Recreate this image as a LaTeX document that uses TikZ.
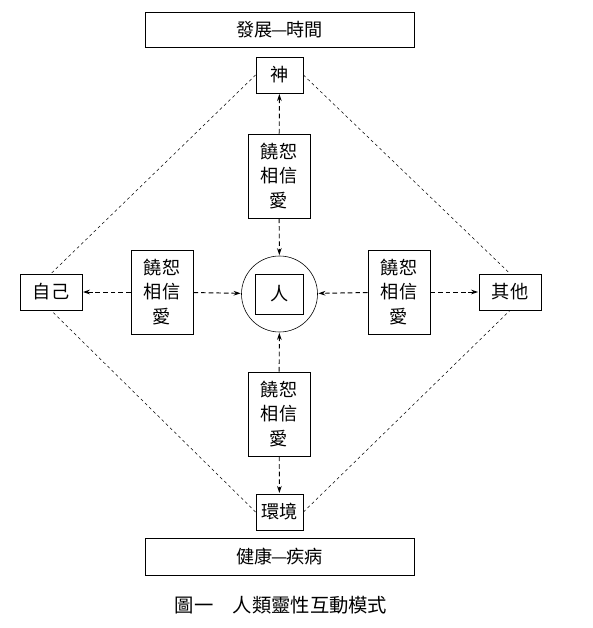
\documentclass[tikz,border=0pt]{standalone}
\usepackage{fontspec}
\setmainfont{Noto Sans CJK TC}
\usetikzlibrary{arrows.meta}

\begin{document}
\begin{tikzpicture}[x=0.03cm, y=-0.03cm, >={Stealth[length=6pt, width=4pt]},
    box/.style={draw, line width=0.7pt, inner sep=0pt, font=\fontsize{15.5}{19}\selectfont},
    lovebox/.style={box, minimum width=1.86cm, minimum height=2.52cm, align=center, font=\fontsize{15.5}{21}\selectfont},
    link/.style={->, line width=0.8pt, dash pattern=on 4pt off 2.5pt, shorten >=0.5pt},
    edge/.style={line width=0.45pt, dash pattern=on 2.5pt off 2.5pt}]
        \useasboundingbox (0,0) rectangle (592,628);

        \node[box, minimum width=8.07cm, minimum height=1.05cm] (fazhan) at (279.5,29.5) {發展\kern-1pt—\kern-1pt 時間};
        \node[box, minimum width=8.07cm, minimum height=1.11cm] (jiankang) at (279.5,556.5) {健康\kern-1pt—\kern-1pt 疾病};

        \node[box, minimum width=1.41cm, minimum height=1.08cm] (shen) at (279.5,75) {神};
        \node[box, minimum width=1.41cm, minimum height=1.08cm] (huanjing) at (279.5,512) {環境};
        \node[box, minimum width=1.86cm, minimum height=1.08cm] (ziji) at (51,292) {自己};
        \node[box, minimum width=1.86cm, minimum height=1.08cm] (qita) at (510,292) {其他};

        \node[circle, draw, line width=0.5pt, minimum size=2.28cm] (renc) at (279.5,294) {};
        \node[box, minimum width=1.44cm, minimum height=1.2cm] (ren) at (279.5,294) {人};

        \node[lovebox] (lup) at (279,176) {饒恕\\相信\\愛};
        \node[lovebox] (ldown) at (279,414) {饒恕\\相信\\愛};
        \node[lovebox] (lleft) at (162,292) {饒恕\\相信\\愛};
        \node[lovebox] (lright) at (399,292) {饒恕\\相信\\愛};

        \draw[link] (lup) -- (shen);
        \draw[link] (lup) -- (renc);
        \draw[link] (ldown) -- (renc);
        \draw[link] (ldown) -- (huanjing);
        \draw[link] (lleft) -- (ziji);
        \draw[link] (lleft) -- (renc);
        \draw[link] (lright) -- (renc);
        \draw[link] (lright) -- (qita);

        \draw[edge] (shen.west) -- (ziji.north);
        \draw[edge] (shen.east) -- (qita.north);
        \draw[edge] (huanjing.west) -- (ziji.south);
        \draw[edge] (huanjing.east) -- (qita.south);

        \node[font=\fontsize{16.5}{19}\selectfont] (tu) at (281,605) {圖一　人類靈性互動模式};
      \end{tikzpicture}
\end{document}
